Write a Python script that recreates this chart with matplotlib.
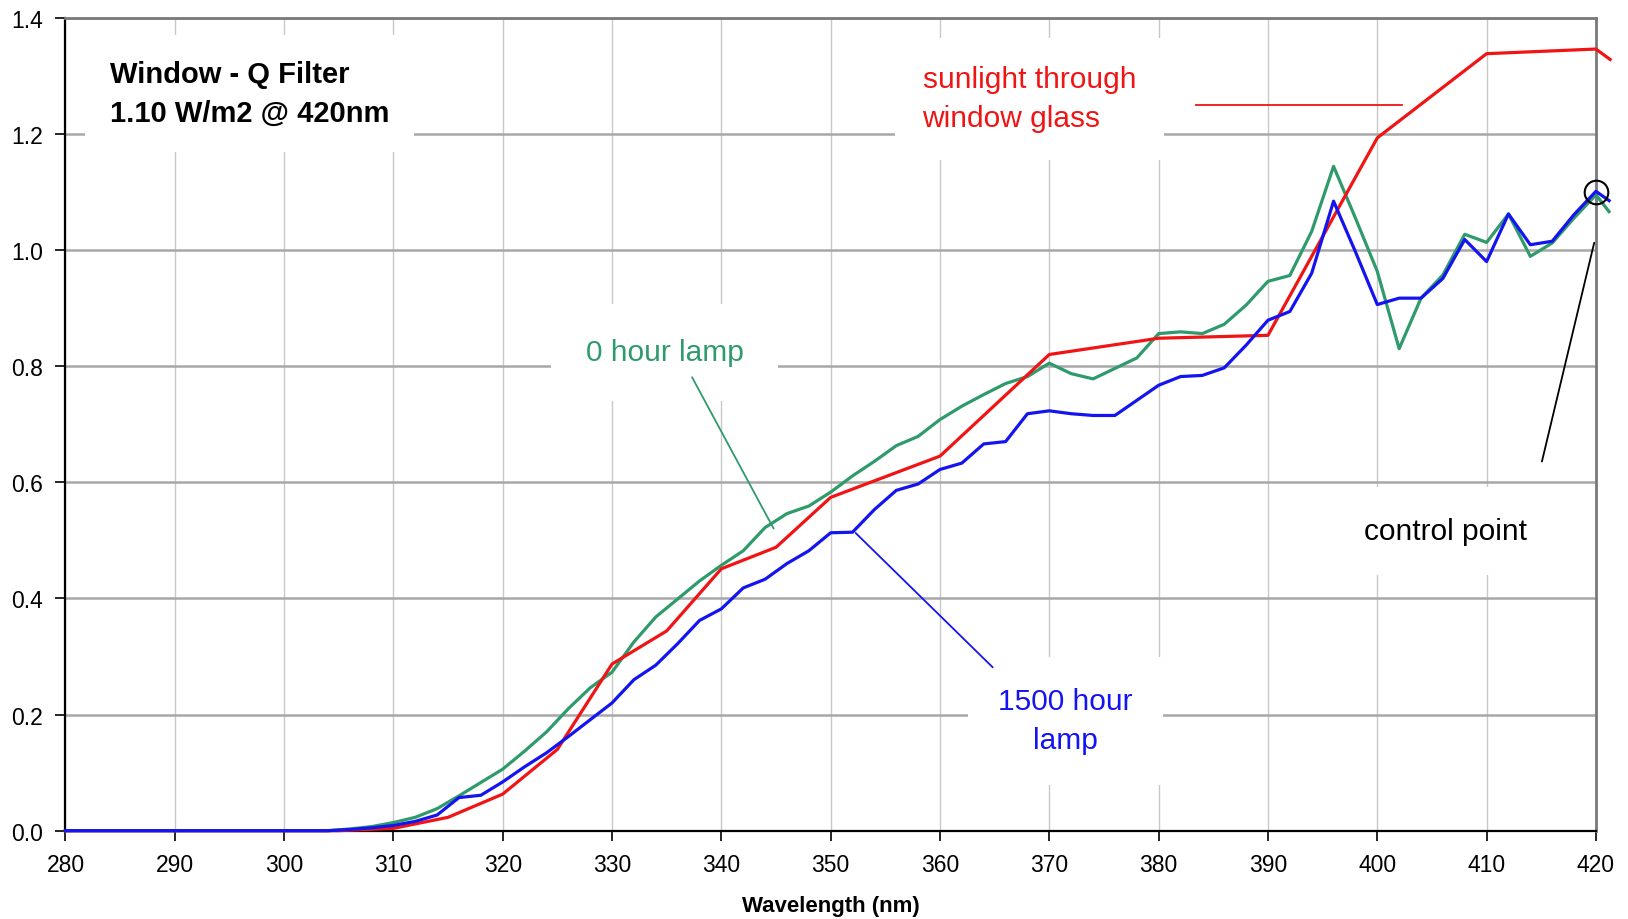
import numpy as np
import matplotlib
matplotlib.use("Agg")
import matplotlib.pyplot as plt

plt.rcParams['font.family'] = ['Liberation Sans', 'DejaVu Sans']

# wavelength grid for the two lamp spectra (2 nm steps, last point just past 420)
wl_lamp = [280, 282, 284, 286, 288, 290, 292, 294, 296, 298, 300, 302, 304,
           306, 308, 310, 312, 314, 316, 318, 320, 322, 324, 326, 328, 330,
           332, 334, 336, 338, 340, 342, 344, 346, 348, 350, 352, 354, 356,
           358, 360, 362, 364, 366, 368, 370, 372, 374, 376, 378, 380, 382,
           384, 386, 388, 390, 392, 394, 396, 398, 400, 402, 404, 406, 408,
           410, 412, 414, 416, 418, 420, 421.2]

lamp_0h = [0, 0, 0, 0, 0, 0, 0, 0, 0, 0, 0, 0, 0,
           0.003, 0.007, 0.014, 0.023, 0.038, 0.060, 0.083, 0.106, 0.137,
           0.170, 0.210, 0.246, 0.273, 0.325, 0.368, 0.399, 0.430, 0.457,
           0.482, 0.522, 0.546, 0.559, 0.583, 0.611, 0.636, 0.663, 0.679,
           0.708, 0.731, 0.751, 0.770, 0.782, 0.805, 0.787, 0.778, 0.796,
           0.814, 0.856, 0.859, 0.856, 0.872, 0.905, 0.946, 0.956, 1.032,
           1.144, 1.055, 0.963, 0.830, 0.917, 0.957, 1.027, 1.013, 1.062,
           0.989, 1.012, 1.055, 1.095, 1.066]

lamp_1500h = [0, 0, 0, 0, 0, 0, 0, 0, 0, 0, 0, 0, 0,
              0.002, 0.005, 0.009, 0.016, 0.027, 0.057, 0.061, 0.084, 0.110,
              0.134, 0.162, 0.191, 0.220, 0.260, 0.285, 0.322, 0.362, 0.382,
              0.418, 0.433, 0.460, 0.482, 0.513, 0.514, 0.553, 0.586, 0.597,
              0.622, 0.633, 0.666, 0.670, 0.718, 0.723, 0.718, 0.715, 0.715,
              0.741, 0.767, 0.782, 0.784, 0.797, 0.836, 0.879, 0.894, 0.960,
              1.084, 0.997, 0.906, 0.917, 0.917, 0.951, 1.018, 0.980, 1.062,
              1.009, 1.015, 1.061, 1.101, 1.085]

wl_sun = [280, 290, 300, 305, 310, 315, 320, 325, 330, 335, 340, 345, 350,
          360, 370, 380, 390, 400, 410, 420, 421.3]
sun_glass = [0, 0, 0, 0, 0.004, 0.023, 0.063, 0.140, 0.287, 0.344, 0.451,
             0.488, 0.574, 0.645, 0.820, 0.848, 0.853, 1.193, 1.338, 1.346,
             1.328]

x_ticks = [280, 290, 300, 310, 320, 330, 340, 350, 360, 370, 380, 390, 400, 410, 420]
y_ticks = [0.0, 0.2, 0.4, 0.6, 0.8, 1.0, 1.2, 1.4]

green = '#2f9a6c'
blue = '#1414f0'
red = '#f01414'

fig = plt.figure(figsize=(16.28, 9.2), dpi=100)
ax = fig.add_axes([0.0402, 0.096, 0.9401, 0.8837])

ax.plot(wl_lamp, lamp_0h, color=green, lw=2.3, clip_on=False, zorder=3)
ax.plot(wl_sun, sun_glass, color=red, lw=2.3, clip_on=False, zorder=4)
ax.plot(wl_lamp, lamp_1500h, color=blue, lw=2.3, clip_on=False, zorder=5)

# control point marker
ax.plot([420], [1.10], marker='o', ms=17, mfc='none', mec='black', mew=1.5,
        clip_on=False, zorder=6)

ax.set_xlim(280, 420)
ax.set_ylim(0, 1.4)
ax.set_xticks(x_ticks)
ax.set_yticks(y_ticks)
ax.set_yticklabels([f'{v:.1f}' for v in y_ticks])
ax.tick_params(direction='out', length=7, width=1.2, labelsize=16.5, pad=9)

ax.xaxis.grid(True, color='#c8c8c8', lw=1.0)
ax.yaxis.grid(True, color='#a8a8a8', lw=1.8)
ax.set_axisbelow(True)

for s in ['left', 'bottom']:
    ax.spines[s].set_color('black')
    ax.spines[s].set_linewidth(1.6)
for s in ['top', 'right']:
    ax.spines[s].set_color('#7a7a7a')
    ax.spines[s].set_linewidth(2.0)

ax.set_xlabel('Wavelength (nm)', fontsize=16, fontweight='bold', labelpad=14)

ax.text(0.029, 0.907, 'Window - Q Filter\n1.10 W/m2 @ 420nm', transform=ax.transAxes,
        fontsize=21, fontweight='bold', ha='left', va='center', linespacing=1.5,
        bbox=dict(facecolor='white', edgecolor='none', pad=18), zorder=2)

ax.text(334.8, 0.824, '0 hour lamp', color=green, fontsize=21.5, ha='center',
        va='center', bbox=dict(facecolor='white', edgecolor='none', pad=25), zorder=2)
ax.annotate('', xy=(344.9, 0.516), xytext=(337.2, 0.785),
            arrowprops=dict(arrowstyle='-', color=green, lw=1.3))

ax.text(358.4, 1.26, 'sunlight through\nwindow glass', color=red, fontsize=21.5,
        ha='left', va='center', linespacing=1.5,
        bbox=dict(facecolor='white', edgecolor='none', pad=20), zorder=2)
ax.plot([383.4, 402.3], [1.25, 1.25], color=red, lw=1.3, zorder=3)

ax.text(371.5, 0.189, '1500 hour\nlamp', color=blue, fontsize=21.5, ha='center',
        va='center', linespacing=1.5,
        bbox=dict(facecolor='white', edgecolor='none', pad=22), zorder=2)
ax.annotate('', xy=(365.0, 0.278), xytext=(352.1, 0.516),
            arrowprops=dict(arrowstyle='-', color=blue, lw=1.3))

ax.text(406.2, 0.516, 'control point', color='black', fontsize=21.5, ha='center',
        va='center', bbox=dict(facecolor='white', edgecolor='none', pad=22), zorder=2)
ax.annotate('', xy=(419.9, 1.017), xytext=(415.0, 0.631),
            arrowprops=dict(arrowstyle='-', color='black', lw=1.3))

fig.savefig('out.png', dpi=100, facecolor='white')
